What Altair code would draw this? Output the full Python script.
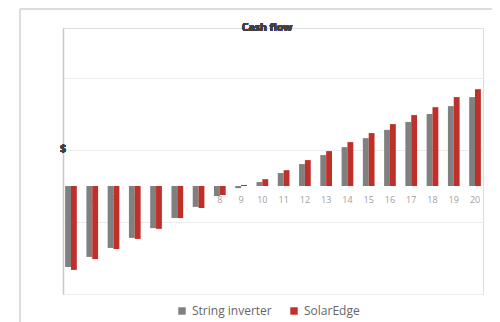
import altair as alt
import pandas as pd

years = [str(i) for i in range(1, 21)]
string_inverter = [-2.25, -1.97, -1.72, -1.44, -1.17, -0.89, -0.58, -0.28, -0.06, 0.11,
                   0.36, 0.61, 0.86, 1.08, 1.33, 1.56, 1.78, 2.00, 2.22, 2.47]
solaredge = [-2.33, -2.03, -1.75, -1.47, -1.19, -0.89, -0.61, -0.25, 0.03, 0.19,
             0.44, 0.72, 0.97, 1.22, 1.47, 1.72, 1.97, 2.19, 2.47, 2.69]
series = ["String inverter", "SolarEdge"]
colors = ["#808080", "#c0302a"]

rows = []
for i, y in enumerate(years):
    rows.append({"year": y, "series": series[0], "value": string_inverter[i]})
    rows.append({"year": y, "series": series[1], "value": solaredge[i]})
df = pd.DataFrame(rows)
lab = pd.DataFrame({"year": years, "zero": [0] * len(years)})

xscale = alt.Scale(domain=years, paddingInner=0.45, paddingOuter=0.1)
yscale = alt.Scale(domain=[-3, 4.39], nice=False)

labels = alt.Chart(lab).mark_text(fontSize=9, color="#a0a0a0", dy=14, font="Open Sans").encode(
    x=alt.X("year:N", scale=xscale, sort=years, axis=None),
    y=alt.Y("zero:Q", scale=yscale),
    text="year:N",
)

bars = alt.Chart(df).mark_bar().encode(
    x=alt.X("year:N", scale=xscale, sort=years, axis=None),
    xOffset=alt.XOffset("series:N", sort=series, scale=alt.Scale(domain=series)),
    y=alt.Y("value:Q", scale=yscale,
            axis=alt.Axis(labels=False, ticks=False, title=None, domain=True,
                          domainColor="#c8c8c8", domainWidth=1.5,
                          grid=True, gridColor="#ececec", values=[-3, -2, -1, 0, 1, 2, 3, 4])),
    color=alt.Color("series:N", sort=series, scale=alt.Scale(domain=series, range=colors),
                    legend=alt.Legend(title=None, orient="none", direction="horizontal",
                                      legendX=113, legendY=277, symbolType="square",
                                      symbolSize=55, symbolStrokeWidth=0,
                                      labelFontSize=12, labelColor="#666666",
                                      labelFont="Open Sans", columnPadding=16)),
)

title = alt.Chart(lab).mark_text(fontSize=10.5, fontWeight="bold", color="#404040", font="Open Sans").encode(
    x=alt.value(204), y=alt.value(0), text=alt.value("Cash flow")
)
dollar = alt.Chart(lab).mark_text(fontSize=10, fontWeight="bold", color="#404040", font="Open Sans").encode(
    x=alt.value(0), y=alt.value(121), text=alt.value("$")
)
frame_top = alt.Chart(lab).mark_rule(color="#dcdcdc", strokeWidth=2).encode(
    x=alt.value(-43), x2=alt.value(450), y=alt.value(-19)
)
frame_left = alt.Chart(lab).mark_rule(color="#dcdcdc", strokeWidth=2).encode(
    x=alt.value(-43), y=alt.value(-19), y2=alt.value(310)
)

chart = alt.layer(frame_top, frame_left, labels, bars, title, dollar).properties(
    width=420, height=266,
    autosize=alt.AutoSizeParams(type="none"),
    padding={"left": 55, "top": 20, "right": 9, "bottom": 28},
).configure_view(stroke=None).configure(background="white")

chart.save("out.html", embed_options={"renderer": "svg", "actions": False})
